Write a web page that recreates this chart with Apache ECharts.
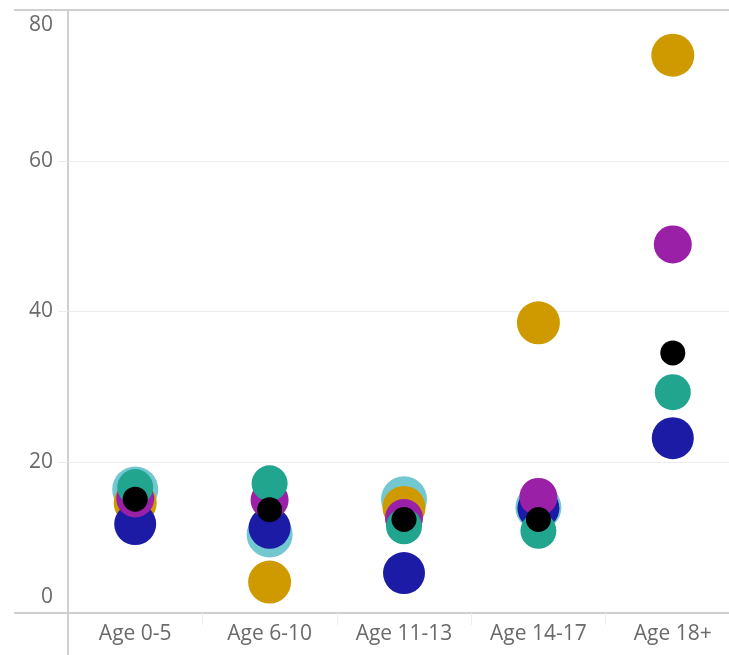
<!DOCTYPE html>
<html>
<head>
<meta charset="utf-8">
<script src="https://cdn.jsdelivr.net/npm/echarts@6/dist/echarts.min.js"></script>
<style>
  html, body { margin: 0; padding: 0; background: #fff; }
  #chart { width: 729px; height: 655px; }
</style>
</head>
<body>
<div id="chart"></div>
<script>
// Age groups on the category axis
const categories = ['Age 0-5', 'Age 6-10', 'Age 11-13', 'Age 14-17', 'Age 18+'];

// Values per group (null = no point)
const lightBlueValues = [16.4, 10.4, 15.1, 14.0, null];
const goldValues      = [14.6, 4.1, 14.0, 38.5, 74.0];
const navyValues      = [11.8, 11.3, 5.3, 13.9, 23.2];
const purpleValues    = [15.2, 15.0, 12.6, 15.4, 48.9];
const tealValues      = [16.7, 17.2, 11.5, 10.9, 29.3];
const blackValues     = [15.1, 13.7, 12.4, 12.4, 34.5];

// Y axis ticks
const yTicks = [0, 20, 40, 60, 80];

// The plot runs slightly past the right edge of the canvas
const GRID_LEFT = 68, GRID_TOP = 10, GRID_BOTTOM = 42, GRID_WIDTH = 672;
const W = 729, H = 655;
const axisGray = '#cfcfcf';
const gridGray = '#ececec';
const labelGray = '#6a6a6a';
const labelFont = '"Open Sans", "Noto Sans", sans-serif';
const labelSize = 21;

const chart = echarts.init(document.getElementById('chart'), null, { renderer: 'canvas' });

function dots(name, values, color, size, z) {
  return {
    name: name,
    type: 'scatter',
    data: values,
    symbol: 'circle',
    symbolSize: size,
    itemStyle: { color: color, opacity: 1 },
    z: z,
    emphasis: { disabled: true },
    silent: true
  };
}

chart.setOption({
  animation: false,
  backgroundColor: '#ffffff',
  grid: {
    left: GRID_LEFT, width: GRID_WIDTH, top: GRID_TOP, bottom: GRID_BOTTOM,
    containLabel: false, outerBoundsMode: 'none'
  },
  xAxis: {
    type: 'category',
    data: categories,
    boundaryGap: true,
    axisLine: { show: true, lineStyle: { color: axisGray, width: 2 } },
    axisTick: { show: true, alignWithLabel: false, length: 12, lineStyle: { color: '#eeeeee', width: 1 } },
    axisLabel: { color: labelGray, fontFamily: labelFont, fontSize: labelSize, margin: 11, hideOverlap: false },
    splitLine: { show: false }
  },
  yAxis: {
    type: 'value',
    min: yTicks[0],
    max: yTicks[yTicks.length - 1],
    interval: 20,
    axisLine: { show: true, lineStyle: { color: axisGray, width: 2 } },
    axisTick: { show: true, length: 10, lineStyle: { color: gridGray, width: 1 } },
    splitLine: { show: true, lineStyle: { color: [axisGray, gridGray, gridGray, gridGray, axisGray], width: 1 } },
    axisLabel: {
      color: labelGray, fontFamily: labelFont, fontSize: labelSize, margin: 15,
      formatter: function (v) {
        if (v === yTicks[yTicks.length - 1]) return '{top|' + v + '}';
        if (v === yTicks[0]) return '{bot|' + v + '}';
        return String(v);
      },
      rich: {
        top: { color: labelGray, fontFamily: labelFont, fontSize: labelSize, padding: [30, 0, 0, 0] },
        bot: { color: labelGray, fontFamily: labelFont, fontSize: labelSize, padding: [0, 0, 32, 0] }
      }
    }
  },
  series: [
    dots('Light blue', lightBlueValues, '#72c7d1', 46, 2),
    dots('Gold', goldValues, '#cf9a00', 43, 3),
    dots('Navy', navyValues, '#1b1ba6', 42, 4),
    dots('Purple', purpleValues, '#9a20a8', 38, 5),
    dots('Teal', tealValues, '#22a58f', 36, 6),
    dots('Black', blackValues, '#000000', 25, 7)
  ]
});

// Frame lines extending past the plot area on the left and below
const topY = chart.convertToPixel({ yAxisIndex: 0 }, yTicks[yTicks.length - 1]);
const baseY = chart.convertToPixel({ yAxisIndex: 0 }, yTicks[0]);
chart.setOption({
  graphic: [
    { type: 'line', shape: { x1: 14, y1: topY, x2: GRID_LEFT, y2: topY }, style: { stroke: axisGray, lineWidth: 2 }, z: 10 },
    { type: 'line', shape: { x1: 14, y1: baseY, x2: GRID_LEFT, y2: baseY }, style: { stroke: axisGray, lineWidth: 2 }, z: 10 },
    { type: 'line', shape: { x1: GRID_LEFT, y1: baseY, x2: GRID_LEFT, y2: H }, style: { stroke: axisGray, lineWidth: 2 }, z: 10 },
    { type: 'line', shape: { x1: GRID_LEFT, y1: topY, x2: W, y2: topY }, style: { stroke: axisGray, lineWidth: 2 }, z: 10 }
  ]
});
</script>
</body>
</html>
